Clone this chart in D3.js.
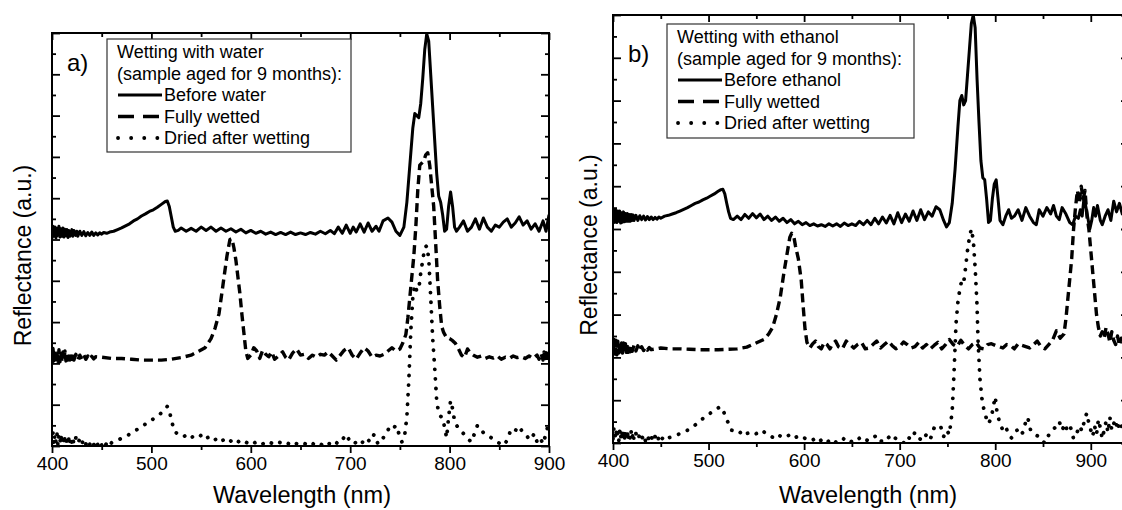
<!DOCTYPE html>
<html>
<head>
<meta charset="utf-8">
<script src="https://cdn.jsdelivr.net/npm/d3@7"></script>
<style>
  html, body { margin: 0; padding: 0; background: #fff; }
  svg { display: block; }
  text { font-family: "Liberation Sans", Arial, sans-serif; fill: #000; }
</style>
</head>
<body>
<svg id="chart" width="1122" height="510"></svg>
<script>
// ---- Panel a: wetting with water (wavelength nm, reflectance a.u.) ----
const aBefore = [[400,5.02],[401,5.32],[402,5.08],[403,5.3],[404,5.04],[405,5.27],[406,5.1],[407,5.32],[408,5.06],[409,5.26],[410,5.08],[411,5.28],[412,5.06],[413,5.25],[414,5.09],[415,5.24],[416,5.05],[417,5.22],[418,5.08],[420,5.24],[421,5.08],[422,5.22],[424,5.1],[425,5.2],[426,5.08],[428,5.2],[430,5.1],[432,5.19],[434,5.09],[436,5.17],[438,5.1],[440,5.18],[442,5.1],[444,5.16],[446,5.11],[448,5.16],[450,5.13],[452,5.17],[455,5.15],[458,5.18],[462,5.2],[466,5.24],[470,5.28],[474,5.33],[478,5.38],[482,5.45],[486,5.5],[490,5.57],[494,5.62],[498,5.68],[502,5.72],[506,5.78],[510,5.85],[514,5.92],[516,5.93],[518,5.8],[520,5.55],[522,5.3],[524,5.2],[527,5.22],[530,5.28],[535,5.2],[540,5.27],[545,5.2],[550,5.3],[555,5.22],[560,5.3],[565,5.2],[570,5.28],[575,5.2],[580,5.26],[585,5.18],[590,5.25],[595,5.16],[600,5.22],[605,5.15],[610,5.2],[615,5.13],[620,5.18],[625,5.12],[630,5.17],[635,5.12],[640,5.18],[645,5.12],[650,5.16],[655,5.12],[660,5.17],[665,5.13],[670,5.2],[675,5.14],[680,5.22],[684,5.14],[688,5.3],[692,5.15],[696,5.35],[700,5.15],[703,5.3],[706,5.18],[710,5.38],[714,5.18],[718,5.4],[722,5.2],[726,5.32],[729,5.2],[733,5.45],[738,5.52],[742,5.42],[746,5.2],[750,5.1],[754,5.3],[757,5.9],[760,6.8],[763,7.7],[765,8.05],[767,8.0],[769,7.95],[771,8.3],[773,8.9],[775,9.6],[777,9.98],[779,9.8],[781,9.0],[783,8.2],[785,7.4],[787,6.6],[789,6.05],[791,5.9],[793,5.6],[795,5.2],[797,5.25],[799,5.8],[801,6.15],[803,5.8],[805,5.3],[807,5.2],[810,5.3],[814,5.45],[818,5.2],[822,5.3],[826,5.5],[830,5.25],[834,5.52],[838,5.3],[842,5.2],[846,5.35],[850,5.3],[854,5.42],[858,5.5],[862,5.3],[866,5.4],[870,5.55],[874,5.35],[878,5.45],[882,5.25],[886,5.38],[890,5.2],[894,5.45],[897,5.2],[900,5.6]];

const aWet = [[400,1.98],[401,2.36],[402,2.06],[403,2.34],[404,2.0],[405,2.3],[406,2.05],[407,2.33],[408,2.04],[409,2.3],[410,2.06],[411,2.28],[412,2.08],[413,2.3],[414,2.06],[415,2.26],[416,2.08],[417,2.25],[418,2.08],[419,2.24],[420,2.1],[421,2.22],[422,2.08],[424,2.22],[426,2.08],[428,2.2],[430,2.1],[432,2.2],[434,2.1],[436,2.18],[438,2.1],[440,2.17],[442,2.11],[444,2.16],[450,2.15],[460,2.12],[470,2.12],[480,2.1],[490,2.08],[500,2.08],[510,2.08],[520,2.1],[530,2.14],[540,2.2],[548,2.3],[554,2.38],[560,2.6],[564,2.85],[568,3.2],[572,3.9],[576,4.6],[579,5.0],[581,5.02],[583,4.8],[585,4.5],[587,4.1],[589,3.7],[591,3.2],[593,2.75],[595,2.3],[597,2.12],[600,2.2],[603,2.38],[606,2.3],[609,2.12],[612,2.32],[615,2.22],[618,2.16],[621,2.28],[624,2.1],[628,2.18],[632,2.28],[635,2.15],[638,2.08],[642,2.25],[646,2.35],[650,2.2],[654,2.22],[658,2.12],[662,2.2],[666,2.15],[670,2.22],[674,2.2],[678,2.28],[682,2.18],[686,2.08],[690,2.2],[694,2.32],[698,2.38],[702,2.2],[706,2.1],[710,2.25],[714,2.38],[718,2.3],[722,2.15],[726,2.2],[730,2.18],[734,2.22],[738,2.3],[742,2.38],[746,2.3],[750,2.35],[753,2.5],[756,2.7],[758,3.1],[760,3.6],[762,4.1],[764,4.6],[766,5.3],[768,6.2],[770,6.8],[772,6.85],[774,6.9],[776,7.05],[778,7.1],[780,6.8],[782,6.3],[784,5.8],[786,4.9],[788,4.0],[790,3.4],[792,2.9],[794,2.75],[797,2.62],[800,2.6],[803,2.55],[806,2.48],[809,2.35],[812,2.2],[815,2.14],[818,2.35],[821,2.25],[824,2.2],[828,2.15],[832,2.18],[836,2.12],[840,2.16],[844,2.13],[848,2.18],[852,2.1],[856,2.15],[860,2.12],[864,2.18],[868,2.14],[872,2.16],[876,2.12],[880,2.18],[884,2.12],[888,2.2],[890,2.1],[892,2.24],[894,2.08],[895,2.28],[896,2.06],[897,2.26],[898,2.05],[899,2.24],[900,2.12]];

const aDried = [[400,0.08],[401,0.32],[402,0.04],[403,0.28],[404,0.1],[405,0.3],[406,0.02],[407,0.24],[408,0.08],[409,0.28],[410,0.06],[411,0.26],[412,0.04],[413,0.22],[414,0.08],[415,0.24],[416,0.03],[417,0.2],[418,0.06],[419,0.22],[420,0.08],[421,0.2],[422,0.04],[424,0.2],[426,0.06],[428,0.18],[430,0.05],[432,0.17],[434,0.04],[436,0.15],[438,0.04],[440,0.14],[442,0.03],[444,0.14],[446,0.03],[448,0.13],[450,0.02],[452,0.12],[454,0.03],[456,0.11],[458,0.03],[460,0.08],[463,0.1],[467,0.15],[471,0.2],[475,0.24],[479,0.3],[483,0.36],[487,0.42],[491,0.48],[495,0.55],[499,0.6],[503,0.68],[507,0.74],[511,0.82],[514,0.9],[516,0.96],[518,0.85],[520,0.65],[522,0.45],[524,0.33],[528,0.28],[532,0.22],[536,0.28],[540,0.2],[544,0.26],[548,0.22],[552,0.3],[556,0.2],[560,0.24],[564,0.15],[568,0.22],[572,0.14],[576,0.2],[580,0.12],[584,0.18],[588,0.1],[592,0.15],[596,0.08],[600,0.14],[604,0.08],[608,0.12],[612,0.05],[616,0.12],[620,0.08],[624,0.04],[628,0.1],[632,0.05],[636,0.09],[640,0.02],[644,0.08],[648,0.03],[652,0.08],[656,0.04],[660,0.1],[664,0.03],[668,0.08],[672,0.02],[676,0.1],[680,0.04],[684,0.12],[688,0.05],[692,0.15],[696,0.28],[700,0.1],[704,0.05],[708,0.15],[712,0.08],[716,0.2],[720,0.1],[724,0.28],[728,0.05],[732,0.15],[736,0.3],[740,0.47],[743,0.42],[746,0.5],[749,0.3],[752,0.1],[755,0.3],[757,0.7],[759,1.6],[761,2.8],[763,3.6],[765,3.9],[767,3.75],[769,3.8],[771,4.2],[773,4.5],[775,4.8],[777,4.85],[779,4.55],[781,3.6],[783,2.6],[785,1.9],[787,1.1],[789,0.8],[791,0.72],[793,0.68],[795,0.45],[797,0.2],[799,0.7],[801,1.1],[803,0.9],[805,0.6],[807,0.5],[810,0.4],[814,0.3],[818,0.18],[822,0.1],[825,0.3],[828,0.5],[831,0.4],[835,0.3],[839,0.25],[843,0.18],[847,0.12],[851,0.05],[855,0.02],[858,0.15],[861,0.35],[864,0.3],[867,0.4],[870,0.48],[873,0.35],[876,0.3],[879,0.2],[882,0.15],[885,0.3],[888,0.1],[891,0.2],[894,0.05],[897,0.3],[900,0.6]];

// ---- Panel b: wetting with ethanol ----
const bBefore = [[400,5.12],[401,5.46],[402,5.16],[403,5.44],[404,5.15],[405,5.42],[406,5.18],[407,5.42],[408,5.14],[409,5.38],[410,5.16],[411,5.4],[412,5.17],[413,5.36],[414,5.18],[415,5.36],[416,5.18],[417,5.34],[418,5.18],[419,5.34],[420,5.2],[421,5.33],[422,5.2],[424,5.32],[426,5.2],[428,5.31],[430,5.22],[432,5.3],[434,5.21],[436,5.29],[438,5.22],[440,5.28],[442,5.22],[444,5.27],[446,5.23],[448,5.28],[450,5.25],[454,5.3],[458,5.32],[462,5.35],[466,5.38],[470,5.42],[474,5.46],[478,5.5],[482,5.55],[486,5.6],[490,5.63],[494,5.68],[498,5.72],[502,5.77],[506,5.82],[510,5.88],[513,5.92],[515,5.93],[517,5.82],[519,5.6],[521,5.4],[523,5.25],[526,5.22],[530,5.3],[534,5.22],[538,5.34],[542,5.25],[546,5.36],[550,5.26],[554,5.35],[558,5.22],[562,5.3],[566,5.2],[570,5.28],[574,5.18],[578,5.25],[582,5.15],[586,5.22],[590,5.12],[594,5.18],[598,5.1],[602,5.15],[606,5.08],[610,5.12],[614,5.07],[618,5.1],[622,5.06],[626,5.12],[630,5.07],[634,5.12],[638,5.06],[642,5.14],[646,5.08],[650,5.12],[654,5.08],[658,5.18],[662,5.1],[666,5.2],[670,5.1],[674,5.25],[678,5.12],[682,5.28],[686,5.14],[690,5.32],[694,5.12],[698,5.38],[702,5.15],[706,5.35],[710,5.18],[714,5.42],[718,5.2],[722,5.45],[726,5.22],[730,5.4],[734,5.3],[738,5.52],[742,5.45],[746,5.2],[749,5.05],[752,5.15],[755,5.6],[758,6.4],[761,7.4],[763,8.0],[765,8.12],[767,7.9],[769,8.0],[771,8.6],[773,9.2],[775,9.8],[777,10.0],[779,9.7],[781,8.5],[783,7.5],[785,6.6],[787,6.2],[789,6.15],[791,5.7],[793,5.15],[795,5.2],[797,5.7],[799,6.05],[801,6.15],[803,5.7],[805,5.2],[808,5.1],[811,5.3],[814,5.45],[817,5.25],[820,5.3],[824,5.45],[828,5.2],[832,5.5],[836,5.3],[840,5.15],[843,5.1],[846,5.45],[850,5.3],[854,5.5],[858,5.35],[861,5.55],[864,5.3],[867,5.22],[870,5.5],[874,5.35],[878,5.15],[881,5.1],[884,5.3],[887,5.25],[889,5.45],[891,5.3],[893,5.75],[895,5.5],[897,5.25],[899,5.0],[901,5.2],[903,5.5],[905,5.3],[907,5.55],[910,5.2],[912,5.1],[915,5.3],[918,5.45],[921,5.2],[924,5.65],[927,5.4],[930,5.6],[933,5.35],[936,5.55],[940,5.4]];

const bWet = [[400,2.05],[401,2.42],[402,2.08],[403,2.4],[404,2.06],[405,2.38],[406,2.1],[407,2.36],[408,2.06],[409,2.34],[410,2.1],[411,2.34],[412,2.1],[413,2.32],[414,2.12],[415,2.3],[416,2.12],[417,2.3],[418,2.13],[419,2.28],[420,2.14],[422,2.28],[424,2.15],[426,2.27],[428,2.15],[430,2.25],[432,2.16],[434,2.24],[436,2.17],[438,2.23],[440,2.18],[445,2.2],[450,2.22],[460,2.2],[470,2.2],[480,2.19],[490,2.18],[500,2.18],[510,2.18],[520,2.19],[530,2.2],[540,2.24],[546,2.3],[552,2.36],[558,2.42],[563,2.55],[567,2.7],[571,3.0],[575,3.4],[579,4.0],[582,4.4],[585,4.8],[587,4.9],[589,4.85],[591,4.6],[594,4.3],[597,3.8],[599,3.2],[601,2.65],[603,2.35],[606,2.22],[609,2.32],[612,2.38],[615,2.25],[618,2.2],[621,2.35],[624,2.3],[627,2.2],[630,2.32],[633,2.38],[636,2.25],[640,2.2],[644,2.38],[648,2.3],[652,2.22],[656,2.3],[660,2.35],[664,2.2],[668,2.22],[672,2.3],[676,2.38],[680,2.22],[684,2.3],[688,2.38],[692,2.28],[696,2.2],[700,2.25],[704,2.36],[708,2.3],[712,2.22],[716,2.25],[720,2.35],[724,2.22],[728,2.3],[732,2.2],[736,2.28],[740,2.35],[744,2.2],[748,2.3],[752,2.42],[756,2.3],[760,2.25],[764,2.4],[768,2.28],[772,2.2],[776,2.3],[780,2.35],[784,2.22],[788,2.2],[792,2.3],[796,2.32],[800,2.28],[804,2.25],[808,2.22],[812,2.3],[816,2.28],[820,2.2],[824,2.32],[828,2.28],[832,2.25],[836,2.22],[840,2.3],[844,2.38],[848,2.25],[852,2.2],[856,2.3],[860,2.4],[864,2.62],[868,2.45],[872,2.55],[874,2.9],[877,3.6],[880,4.3],[882,5.0],[884,5.5],[886,5.9],[888,5.6],[890,6.0],[892,5.7],[894,5.9],[896,5.3],[898,5.0],[900,4.5],[902,4.0],[904,3.5],[906,3.0],[908,2.7],[910,2.5],[912,2.6],[914,2.45],[916,2.7],[918,2.55],[920,2.35],[922,2.6],[924,2.4],[926,2.3],[928,2.5],[930,2.28],[932,2.45],[934,2.3],[936,2.4],[940,2.3]];

const bDried = [[400,0.1],[401,0.36],[402,0.06],[403,0.32],[404,0.12],[405,0.34],[406,0.04],[407,0.28],[408,0.1],[409,0.3],[410,0.08],[411,0.3],[412,0.06],[413,0.28],[414,0.08],[415,0.3],[416,0.06],[417,0.24],[418,0.08],[419,0.26],[420,0.1],[421,0.25],[422,0.06],[424,0.22],[426,0.08],[428,0.2],[430,0.08],[432,0.2],[434,0.05],[436,0.18],[438,0.05],[440,0.16],[442,0.03],[444,0.15],[446,0.02],[448,0.13],[450,0.03],[452,0.12],[455,0.06],[458,0.12],[462,0.15],[466,0.18],[470,0.22],[474,0.25],[478,0.3],[482,0.35],[486,0.42],[490,0.5],[494,0.57],[498,0.63],[502,0.7],[506,0.76],[509,0.8],[512,0.85],[515,0.78],[518,0.6],[521,0.45],[524,0.3],[528,0.27],[532,0.22],[536,0.3],[540,0.22],[544,0.25],[548,0.2],[552,0.24],[556,0.3],[560,0.22],[564,0.18],[568,0.12],[572,0.2],[576,0.15],[580,0.12],[584,0.18],[588,0.1],[592,0.14],[596,0.08],[600,0.12],[604,0.08],[608,0.05],[612,0.12],[616,0.04],[620,0.1],[624,0.02],[628,0.08],[632,0.0],[636,0.08],[640,0.12],[644,0.05],[648,0.0],[652,0.1],[656,0.08],[660,0.15],[664,0.08],[668,0.05],[672,0.12],[676,0.18],[680,0.05],[684,0.02],[688,0.12],[692,0.2],[696,0.1],[700,0.05],[704,0.0],[708,0.15],[712,0.08],[716,0.25],[720,0.12],[724,0.05],[728,0.2],[732,0.08],[736,0.35],[740,0.42],[743,0.38],[746,0.15],[749,0.3],[752,0.2],[755,0.75],[757,1.7],[759,2.8],[761,3.3],[763,3.6],[765,3.8],[767,3.75],[769,4.1],[771,4.5],[773,4.8],[775,5.0],[777,4.75],[779,4.1],[781,3.2],[782,2.4],[784,1.5],[786,1.05],[788,0.8],[791,0.55],[793,0.45],[796,0.6],[798,0.85],[800,1.08],[802,0.7],[805,0.45],[808,0.3],[811,0.38],[814,0.2],[817,0.12],[820,0.25],[823,0.3],[826,0.18],[829,0.25],[832,0.5],[834,0.6],[837,0.3],[840,0.25],[843,0.18],[846,0.15],[849,0.05],[852,0.0],[855,0.15],[858,0.25],[861,0.32],[864,0.4],[867,0.5],[870,0.3],[873,0.45],[876,0.25],[879,0.35],[882,0.1],[885,0.2],[888,0.4],[891,0.28],[894,0.6],[896,0.7],[898,0.45],[900,0.3],[902,0.15],[904,0.4],[906,0.2],[908,0.55],[910,0.35],[912,0.1],[914,0.3],[916,0.5],[918,0.25],[920,0.6],[922,0.3],[924,0.45],[926,0.55],[928,0.3],[930,0.5],[933,0.35],[936,0.5],[940,0.4]];

// Axis ticks and text
const xMajorTicks = [400, 500, 600, 700, 800, 900];
const xMinorTicks = [450, 550, 650, 750, 850, 950];
const yMajorTicks = [0,1,2,3,4,5,6,7,8,9,10];
const yMinorTicks = [0.5,1.5,2.5,3.5,4.5,5.5,6.5,7.5,8.5,9.5];
const xTitle = "Wavelength (nm)";
const yTitle = "Reflectance (a.u.)";
const seriesStyles = ["solid", "dashed", "dotted"];

const panels = [
  { tag: "a)", tagX: 67, tagY: 71, xTitleX: 302, yTitleX: 31,
    left: 52, right: 549, top: 33, bottom: 446, xMax: 900,
    legendTitle: ["Wetting with water", "(sample aged for 9 months):"],
    legendItems: ["Before water", "Fully wetted", "Dried after wetting"],
    series: [aBefore, aWet, aDried],
    box: { x: 107, y: 39, w: 244, h: 113 } },
  { tag: "b)", tagX: 628, tagY: 62, xTitleX: 868, yTitleX: 597,
    left: 613, right: 1129, top: 15, bottom: 443, xMax: 940,
    legendTitle: ["Wetting with ethanol", "(sample aged for 9 months):"],
    legendItems: ["Before ethanol", "Fully wetted", "Dried after wetting"],
    series: [bBefore, bWet, bDried],
    box: { x: 667, y: 24, w: 247, h: 114 } }
];

const svg = d3.select("#chart");

// stroke patterns for the plotted curves and for the legend samples
function strokeFor(style, inLegend) {
  if (style === "dashed") return { w: 3.4, dash: inLegend ? "16 9" : "9 5", cap: "butt" };
  if (style === "dotted") return { w: 3.8, dash: inLegend ? "0.1 13" : "0.1 9.5", cap: "round" };
  return { w: 3, dash: null, cap: "butt" };
}

panels.forEach((p, pi) => {
  const x = d3.scaleLinear().domain([400, p.xMax]).range([p.left, p.right]);
  const y = d3.scaleLinear().domain([0, 10]).range([p.bottom, p.top]);
  const g = svg.append("g");

  const clipId = "clip" + pi;
  svg.append("clipPath").attr("id", clipId)
    .append("rect").attr("x", p.left).attr("y", p.top)
    .attr("width", p.right - p.left).attr("height", p.bottom - p.top);

  // spectra
  const line = d3.line().x(d => x(d[0])).y(d => y(d[1]));
  const lines = g.append("g").attr("clip-path", `url(#${clipId})`);
  p.series.forEach((s, i) => {
    const st = strokeFor(seriesStyles[i], false);
    lines.append("path").datum(s)
      .attr("d", line)
      .attr("fill", "none")
      .attr("stroke", "#000")
      .attr("stroke-width", st.w)
      .attr("stroke-linejoin", "round")
      .attr("stroke-linecap", st.cap)
      .attr("stroke-dasharray", st.dash);
  });

  // axes: bottom ticks point outward, the other three sides inward
  const axisStyle = sel => {
    sel.select(".domain").remove();
    sel.selectAll("line").attr("stroke", "#000").attr("stroke-width", 1.8);
  };
  const inRange = t => t <= p.xMax;
  g.append("g").attr("transform", `translate(0,${p.bottom})`)
    .call(d3.axisBottom(x).tickValues(xMajorTicks.filter(inRange)).tickSize(7).tickPadding(4))
    .call(axisStyle)
    .call(s => s.selectAll("text").attr("font-size", 19).attr("font-family", "Liberation Sans, Arial, sans-serif"));
  g.append("g").attr("transform", `translate(0,${p.bottom})`)
    .call(d3.axisBottom(x).tickValues(xMinorTicks.filter(inRange)).tickSize(4).tickFormat(""))
    .call(axisStyle);
  g.append("g").attr("transform", `translate(0,${p.top})`)
    .call(d3.axisTop(x).tickValues(xMajorTicks.filter(inRange)).tickSize(-7).tickFormat(""))
    .call(axisStyle);
  g.append("g").attr("transform", `translate(0,${p.top})`)
    .call(d3.axisTop(x).tickValues(xMinorTicks.filter(inRange)).tickSize(-4).tickFormat(""))
    .call(axisStyle);
  g.append("g").attr("transform", `translate(${p.left},0)`)
    .call(d3.axisLeft(y).tickValues(yMajorTicks).tickSize(-8).tickFormat(""))
    .call(axisStyle);
  g.append("g").attr("transform", `translate(${p.left},0)`)
    .call(d3.axisLeft(y).tickValues(yMinorTicks).tickSize(-4).tickFormat(""))
    .call(axisStyle);
  g.append("g").attr("transform", `translate(${p.right},0)`)
    .call(d3.axisRight(y).tickValues(yMajorTicks).tickSize(-8).tickFormat(""))
    .call(axisStyle);
  g.append("g").attr("transform", `translate(${p.right},0)`)
    .call(d3.axisRight(y).tickValues(yMinorTicks).tickSize(-4).tickFormat(""))
    .call(axisStyle);

  // frame
  g.append("rect").attr("x", p.left).attr("y", p.top)
    .attr("width", p.right - p.left).attr("height", p.bottom - p.top)
    .attr("fill", "none").attr("stroke", "#000").attr("stroke-width", 2);

  // axis titles
  g.append("text").attr("x", p.xTitleX)
    .attr("y", 503).attr("text-anchor", "middle").attr("font-size", 23.5).text(xTitle);
  g.append("text")
    .attr("transform", `translate(${p.yTitleX},${(p.top + p.bottom) / 2 + 16}) rotate(-90)`)
    .attr("text-anchor", "middle").attr("font-size", 23).text(yTitle);

  // panel tag
  g.append("text").attr("x", p.tagX).attr("y", p.tagY)
    .attr("font-size", 24).text(p.tag);

  // legend
  const b = p.box;
  const lg = g.append("g");
  lg.append("rect").attr("x", b.x).attr("y", b.y).attr("width", b.w).attr("height", b.h)
    .attr("fill", "#fff").attr("stroke", "#333").attr("stroke-width", 1.2);
  const rows = p.legendTitle.concat(p.legendItems);
  rows.forEach((t, i) => {
    const by = b.y + 19 + i * 21.5;
    const isItem = i >= 2;
    lg.append("text").attr("x", isItem ? b.x + 57 : b.x + 10).attr("y", by)
      .attr("font-size", 18).text(t);
    if (isItem) {
      const st = strokeFor(seriesStyles[i - 2], true);
      lg.append("line").attr("x1", b.x + 11).attr("x2", b.x + 55)
        .attr("y1", by - 6).attr("y2", by - 6)
        .attr("stroke", "#000").attr("stroke-width", st.w)
        .attr("stroke-linecap", st.cap).attr("stroke-dasharray", st.dash);
    }
  });
});
</script>
</body>
</html>
